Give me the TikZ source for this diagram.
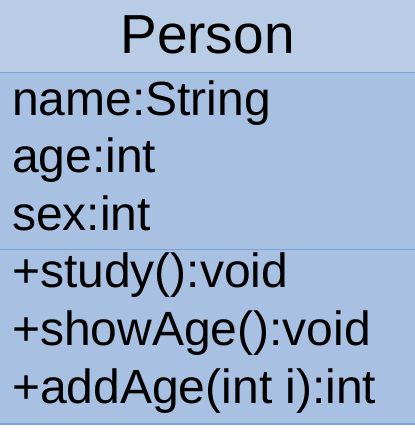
\documentclass[tikz,border=0pt]{standalone}
\usepackage{fontspec}
\setmainfont{Liberation Sans}
\usepackage{tikz}
\usetikzlibrary{positioning}
\definecolor{headfill}{HTML}{B8CCE5}
\definecolor{bodyfill}{HTML}{A8C0E2}
\definecolor{rulecol}{HTML}{7BA2D2}

\begin{document}
\begin{tikzpicture}[x=1pt,y=-1pt]
    \useasboundingbox (0,0) rectangle (415,432);
    \fill[headfill] (0,0) rectangle (415,72.5);
    \fill[bodyfill] (0,72.5) rectangle (415,424);
    \foreach \y in {72.5,249.5,424} \draw[rulecol,line width=1.5pt] (0,\y) -- (415,\y);
    \node[inner sep=0,anchor=base,font=\fontsize{55}{60}\selectfont] (title) at (207.5,53) {Person};
    \foreach \t [count=\i] in {name:String,age:int,sex:int}
      \node[inner sep=0,anchor=base west,font=\fontsize{48}{54}\selectfont] (attr\i) at (12,57.5+57.5*\i) {\t};
    \foreach \t [count=\i] in {+study():void,+showAge():void,+addAge(int i):int}
      \node[inner sep=0,anchor=base west,font=\fontsize{48}{54}\selectfont] (op\i) at (12,229+58*\i) {\t};
  \end{tikzpicture}
\end{document}
